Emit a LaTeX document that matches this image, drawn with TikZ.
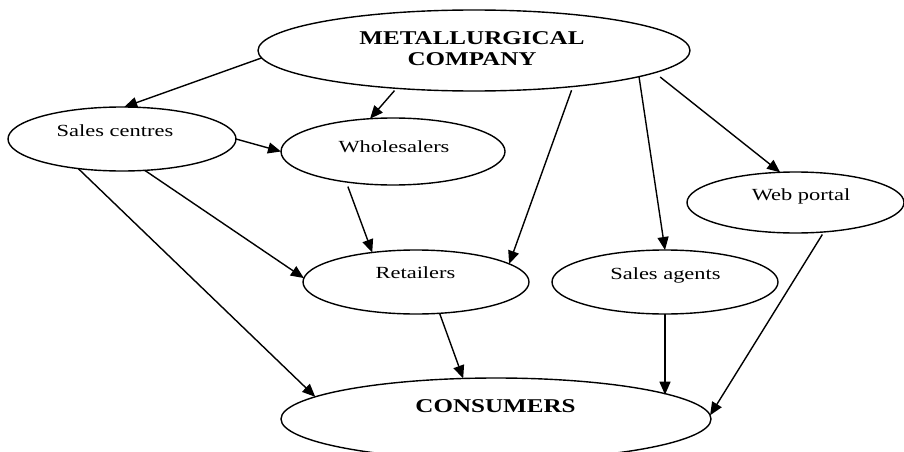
\documentclass[tikz,border=0pt]{standalone}
\usepackage{fontspec}
\setmainfont{Liberation Serif}
\newfontfamily\regf{Liberation Serif}[FakeStretch=1.32]
\newfontfamily\boldf{Liberation Serif}[FakeStretch=1.285]
\usetikzlibrary{arrows.meta,shapes.geometric}
\begin{document}
\begin{tikzpicture}[x=1pt,y=-1pt,
  ell/.style={draw, ellipse, line width=1.4pt, inner sep=0pt, outer sep=0pt},
  arr/.style={-{Triangle[length=13pt,width=11pt]}, line width=1.4pt},
  lbl/.style={anchor=base, inner sep=0pt, font=\regf\fontsize{17}{20}\selectfont},
  blbl/.style={anchor=base, inner sep=0pt, font=\boldf\bfseries\fontsize{19.5}{20}\selectfont}]
\useasboundingbox (0,0) rectangle (904,452);
% ellipses
\node[ell, minimum width=432pt, minimum height=81pt] (mc) at (474,50.5) {};
\node[ell, minimum width=228pt, minimum height=64pt] (sc) at (122,139) {};
\node[ell, minimum width=224pt, minimum height=67pt] (wh) at (393,151.5) {};
\node[ell, minimum width=217pt, minimum height=61pt] (wp) at (795.5,202.5) {};
\node[ell, minimum width=226pt, minimum height=64pt] (re) at (416,282) {};
\node[ell, minimum width=226pt, minimum height=64pt] (sa) at (665,282) {};
\node[ell, minimum width=430pt, minimum height=82pt] (co) at (496,419) {};
% texts
\node[blbl] (t1) at (472,45) {METALLURGICAL};
\node[blbl] (t2) at (472,65) {COMPANY};
\node[lbl] (tsc) at (115,136) {Sales centres};
\node[lbl] (twh) at (394,152) {Wholesalers};
\node[lbl] (twp) at (801,200) {Web portal};
\node[lbl] (tre) at (415.5,278) {Retailers};
\node[lbl] (tsa) at (665.5,279) {Sales agents};
\node[blbl] (tco) at (495.5,412) {CONSUMERS};
% connectors
\draw[arr] (mc.182.2) -- (sc.86.4);
\draw[arr, shorten <=3pt] (mc.206.2) -- (wh.125);
\draw[arr, shorten <=4pt] (mc.340.8) -- (re.11.7);
\draw[arr] (mc.351.75) -- (sa.90);
\draw[arr, shorten <=7pt] (mc.353.5) -- (wp.117.5);
\draw[arr] (sc.0) -- (wh.180.8);
\draw[arr] (sc.306.6) -- (re.178);
\draw[arr] (sc.214.6) -- (co.173.8);
\draw[arr, shorten <=5pt] (wh.213.2) -- (re.146.4);
\draw[arr] (re.307.5) -- (co.129);
\draw[arr] (sa.270) -- (sa.270 |- co.8.7);
\draw[arr, shorten <=3pt] (wp.314) -- (co.1.3);
\end{tikzpicture}
\end{document}
